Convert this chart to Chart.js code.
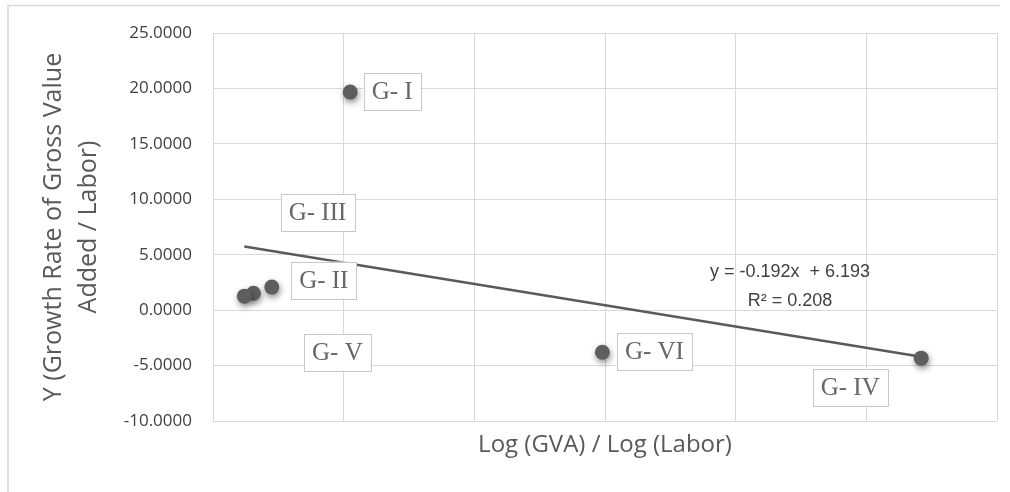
<!DOCTYPE html>
<html>
<head>
<meta charset="utf-8">
<script src="https://cdn.jsdelivr.net/npm/chart.js@4/dist/chart.umd.min.js"></script>
<style>
  html, body { margin: 0; padding: 0; background: #ffffff; }
  #wrap { width: 1010px; height: 492px; position: relative; }
</style>
</head>
<body>
<div id="wrap"><canvas id="c"></canvas></div>
<script>
// Sector groups and their values
const groupNames = ['G- I', 'G- II', 'G- III', 'G- IV', 'G- V', 'G- VI'];
const ratioX = [10.5, 4.5, 3.1, 54.2, 2.4, 29.8];          // Log (GVA) / Log (Labor)
const growthY = [19.67, 2.08, 1.53, -4.33, 1.26, -3.80];   // growth rate of GVA / labor
const yTicks = [-10, -5, 0, 5, 10, 15, 20, 25];
const xGrid = [0, 10, 20, 30, 40, 50, 60];

// Linear trend line
const trendSlope = -0.192;
const trendIntercept = 6.193;
const trendText = ['y = -0.192x  + 6.193', 'R\u00B2 = 0.208'];

// Data-label placement (pixel offset of each label box from its point)
const labelOffsets = [[42, -1], [52, -7], [64, -81], [-71, 29], [93, 56], [52, -1]];

const points = ratioX.map((x, i) => ({ x: x, y: growthY[i] }));
const xMinData = Math.min(...ratioX);
const xMaxData = Math.max(...ratioX);
const trendPoints = [xMinData, xMaxData].map(x => ({ x: x, y: trendSlope * x + trendIntercept }));

const GRID = '#d9d9d9';
const TEXT = '#595959';

// Outer frame of the chart
const framePlugin = {
  id: 'frame',
  beforeDraw(chart) {
    const ctx = chart.ctx;
    ctx.save();
    ctx.strokeStyle = GRID;
    ctx.lineWidth = 1.5;
    ctx.beginPath();
    ctx.moveTo(8, 492);
    ctx.lineTo(8, 5.5);
    ctx.lineTo(1000, 5.5);
    ctx.stroke();
    ctx.restore();
  }
};

// Soft drop shadow under the markers
const shadowPlugin = {
  id: 'markerShadow',
  beforeDatasetDraw(chart, args) {
    if (args.index !== 0) return;
    const ctx = chart.ctx;
    ctx.save();
    ctx.shadowColor = 'rgba(0,0,0,0.45)';
    ctx.shadowBlur = 6;
    ctx.shadowOffsetX = 1;
    ctx.shadowOffsetY = 3;
  },
  afterDatasetDraw(chart, args) {
    if (args.index !== 0) return;
    chart.ctx.restore();
  }
};

// Boxed group labels and the trend equation
const labelPlugin = {
  id: 'groupLabels',
  afterDatasetsDraw(chart) {
    const ctx = chart.ctx;
    const meta = chart.getDatasetMeta(0);
    ctx.save();
    ctx.font = '25px "Liberation Serif", "DejaVu Serif", serif';
    ctx.textAlign = 'center';
    ctx.textBaseline = 'middle';
    meta.data.forEach((pt, i) => {
      const cx = pt.x + labelOffsets[i][0];
      const cy = pt.y + labelOffsets[i][1];
      const w = ctx.measureText(groupNames[i]).width + 16;
      const h = 37;
      ctx.fillStyle = '#ffffff';
      ctx.fillRect(cx - w / 2, cy - h / 2, w, h);
      ctx.strokeStyle = '#c8c8c8';
      ctx.lineWidth = 1;
      ctx.strokeRect(Math.round(cx - w / 2) + 0.5, Math.round(cy - h / 2) + 0.5, Math.round(w), h);
      ctx.fillStyle = '#666666';
      ctx.fillText(groupNames[i], cx, cy + 1);
    });

    const area = chart.chartArea;
    ctx.font = '18px "Liberation Sans Narrow", "Arial Narrow", "Liberation Sans", sans-serif';
    ctx.fillStyle = '#404040';
    ctx.fillText(trendText[0], area.left + 577, area.top + 239);
    ctx.fillText(trendText[1], area.left + 577, area.top + 268);
    ctx.restore();
  }
};

new Chart(document.getElementById('c'), {
  type: 'scatter',
  data: {
    datasets: [
      {
        label: 'Groups',
        data: points,
        order: 1,
        pointRadius: 7.5,
        pointHoverRadius: 7.5,
        pointBackgroundColor: '#5e5e5e',
        pointBorderColor: '#5e5e5e',
        pointBorderWidth: 0
      },
      {
        label: 'Linear trend',
        type: 'line',
        data: trendPoints,
        order: 2,
        borderColor: '#5a5a5a',
        borderWidth: 2.5,
        pointRadius: 0,
        fill: false
      }
    ]
  },
  plugins: [framePlugin, shadowPlugin, labelPlugin],
  options: {
    responsive: true,
    maintainAspectRatio: false,
    animation: false,
    layout: { padding: { left: 0, top: 33, right: 13, bottom: 0 } },
    plugins: {
      legend: { display: false },
      tooltip: { enabled: false }
    },
    scales: {
      x: {
        type: 'linear',
        min: xGrid[0],
        max: xGrid[xGrid.length - 1],
        afterBuildTicks: (scale) => { scale.ticks = xGrid.map(v => ({ value: v })); },
        afterFit: (scale) => { scale.height = 71; },
        ticks: { display: false },
        grid: { color: GRID, lineWidth: 1, drawTicks: false },
        border: { display: false },
        title: {
          display: true,
          text: 'Log (GVA) / Log (Labor)',
          color: TEXT,
          font: { family: '"Open Sans", sans-serif', size: 24 },
          padding: { top: 14, bottom: 32 }
        }
      },
      y: {
        type: 'linear',
        min: yTicks[0],
        max: yTicks[yTicks.length - 1],
        afterBuildTicks: (scale) => { scale.ticks = yTicks.map(v => ({ value: v })); },
        afterFit: (scale) => { scale.width = 213; },
        ticks: {
          color: '#404040',
          font: { family: '"Open Sans", sans-serif', size: 17 },
          padding: 21,
          callback: (v) => Number(v).toFixed(4)
        },
        grid: { color: GRID, lineWidth: 1, drawTicks: false },
        border: { display: false },
        title: {
          display: true,
          text: ['Y (Growth Rate of Gross Value', 'Added / Labor)'],
          color: TEXT,
          font: { family: '"Open Sans", sans-serif', size: 25, lineHeight: 1.4 },
          padding: { top: 36, bottom: 0 }
        }
      }
    }
  }
});
</script>
</body>
</html>
